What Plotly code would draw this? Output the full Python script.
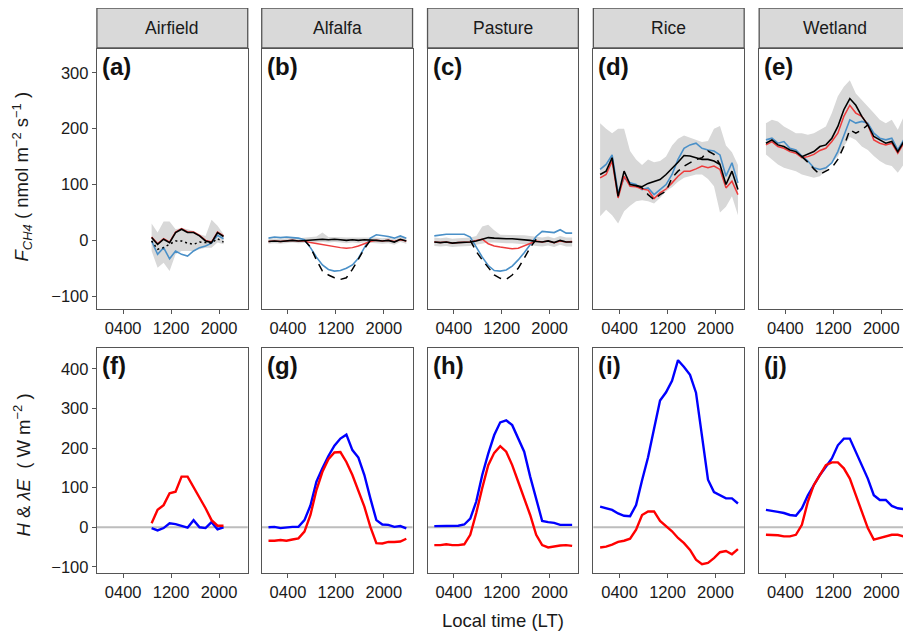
import plotly.graph_objects as go

# ---------------- data ----------------
SITES = ["Airfield", "Alfalfa", "Pasture", "Rice", "Wetland"]
TOP_LABELS = ["(a)", "(b)", "(c)", "(d)", "(e)"]
BOT_LABELS = ["(f)", "(g)", "(h)", "(i)", "(j)"]

HOURS = [0.75, 1.75, 2.75, 3.75, 4.75, 5.75, 6.75, 7.75, 8.75, 9.75, 10.75, 11.75,
         12.75, 13.75, 14.75, 15.75, 16.75, 17.75, 18.75, 19.75, 20.75, 21.75, 22.75, 23.75]
AF_HOURS = [8.75, 9.75, 10.75, 11.75, 12.75, 13.75, 14.75, 15.75, 16.75, 17.75, 18.75, 19.75, 20.75]

X_TICKS = [4, 12, 20]
X_TICK_TEXT = ["0400", "1200", "2000"]
Y_TOP_TICKS = [-100, 0, 100, 200, 300]
Y_TOP_TEXT = ["\u2212100", "0", "100", "200", "300"]
Y_BOT_TICKS = [-100, 0, 100, 200, 300, 400]
Y_BOT_TEXT = ["\u2212100", "0", "100", "200", "300", "400"]

# Airfield FCH4
a_lo = [-19, -49, -40, -55, -25, -19, -19, -19, -16, -13, -13, -4, -7]
a_hi = [30, 14, 34, 34, 20, 22, 20, 17, 11, 8, 37, 26, 11]
a_black = [5, -7, 2, -4, 14, 20, 14, 14, 8, -1, -4, 14, 7]
a_red = [6, -6, 3, -3, 15, 21, 15, 15, 9, 0, -3, 15, 8]
a_blue = [-1, -25, -13, -33, -19, -25, -28, -19, -13, -10, -5, 9, 3]
a_dot = [-1, -16, -13, -7, -1, -1, -5, -7, -3, -4, -5, 3, -3]

# Alfalfa FCH4
b_lo = [-6, -5, -6, -5, -4, -5, -4, -4, -4, -3, -4, -3, -4, -5, -4, -5, -4, -4, -5, -6, -5, -8, -3, -6]
b_hi = [3, 4, 3, 4, 5, 4, 5, 6, 7, 14, 6, 6, 5, 5, 5, 5, 5, 6, 5, 4, 5, 2, 7, 4]
b_black = [-2, -1, -2, -1, 0, -1, 0, 1, 1, 2, 1, 2, 1, 0, 1, 0, 1, 1, 0, -1, 0, -3, 2, -1]
b_red = [-2, -1, -2, -1, 0, -1, -1, -4, -6, -8, -9, -11, -13, -14, -13, -10, -6, -2, 0, -1, 0, -2, 1, -1]
b_blue = [4, 6, 5, 6, 5, 4, 1, -13, -30, -44, -52, -55, -54, -50, -44, -32, -13, 4, 10, 9, 7, 4, 8, 4]
b_dash = [None, None, None, None, None, None, 0, -12, -35, -55, -62, -67, -70, -67, -52, -33, -15, 0,
          None, None, None, None, None, None]

# Pasture FCH4
c_lo = [-10, -11, -10, -12, -11, -11, -10, -8, -6, -4, -4, -5, -5, -5, -6, -6, -8, -10, -11, -9, -12, -8, -11, -11]
c_hi = [5, 4, 5, 3, 4, 4, 5, 8, 25, 28, 18, 10, 10, 10, 9, 9, 8, 6, 5, 7, 4, 8, 5, 5]
c_black = [-3, -4, -3, -5, -4, -4, -3, -1, 2, 5, 4, 3, 3, 3, 2, 2, 0, -2, -3, -1, -4, 0, -3, -3]
c_red = [-3, -4, -3, -5, -4, -4, -3, 0, 2, -6, -10, -12, -13, -15, -14, -10, -5, -1, -3, -1, -4, -1, -3, -2]
c_blue = [8, 10, 11, 11, 11, 11, 6, -12, -30, -45, -54, -55, -53, -46, -35, -22, -8, 7, 16, 15, 14, 19, 13, 13]
c_dash = [None, None, None, None, None, None, 0, -20, -35, -48, -62, -68, -70, -62, -50, -32, -13, 2,
          None, None, None, None, None, None]

# Rice FCH4
d_lo = [43, 55, 45, 30, 52, 62, 70, 72, 70, 66, 76, 88, 95, 105, 112, 115, 118, 118, 110, 97, 50, 60, 79, 45]
d_hi = [210, 200, 192, 200, 200, 160, 145, 135, 145, 140, 142, 150, 170, 182, 188, 184, 180, 176, 178, 200, 205, 170, 158, 135]
d_black = [118, 124, 148, 79, 124, 100, 98, 96, 102, 106, 109, 118, 130, 140, 152, 151, 148, 145, 145, 142, 136, 100, 124, 91]
d_red = [112, 118, 142, 76, 115, 97, 96, 92, 90, 75, 85, 92, 103, 115, 124, 124, 128, 133, 130, 133, 127, 94, 106, 82]
d_blue = [127, 136, 153, 85, 112, 103, 100, 91, 94, 82, 91, 100, 118, 145, 165, 171, 174, 165, 162, 160, 153, 115, 139, 103]
d_dash = [None, None, None, None, None, None, 98, 94, 82, 73, 82, 88, 112, 124, 133, 139, 145, 148, 160, 154, 136,
          None, None, None]

# Wetland FCH4
e_lo = [154, 145, 136, 130, 127, 124, 118, 115, 112, 115, 125, 140, 150, 168, 185, 180, 168, 162, 151, 142, 136, 133, 121, 136]
e_hi = [210, 216, 213, 204, 198, 192, 192, 189, 192, 198, 204, 228, 258, 275, 287, 263, 252, 240, 228, 216, 210, 216, 198, 222]
e_black = [174, 180, 171, 168, 162, 159, 150, 154, 159, 168, 171, 183, 204, 234, 254, 242, 222, 207, 186, 180, 174, 177, 159, 177]
e_red = [171, 177, 168, 165, 159, 156, 148, 150, 154, 161, 165, 177, 192, 222, 242, 228, 222, 207, 180, 174, 171, 174, 156, 174]
e_blue = [180, 183, 174, 177, 165, 162, 151, 142, 130, 127, 130, 139, 159, 186, 216, 210, 213, 210, 192, 183, 180, 183, 162, 180]
e_dash = [None, None, None, None, None, None, 150, 140, 128, 118, 124, 130, 145, 168, 198, 192, 198, 207,
          None, None, None, None, None, None]

# Energy fluxes: H (red) and LE (blue)
f_h = [10, 44, 56, 86, 90, 128, 128, 102, 73, 48, 18, 4, 4]
f_le = [-2, -8, -2, 10, 8, 4, -1, 18, 0, -2, 13, -5, 0]
g_h = [-34, -34, -32, -34, -31, -28, -11, 31, 94, 140, 172, 189, 190, 165, 132, 94, 52, 1, -40, -41, -37, -37, -36, -29]
g_le = [0, 1, -2, 0, 1, 1, 18, 55, 115, 149, 180, 206, 224, 234, 195, 176, 132, 73, 18, 7, 6, 1, 3, -3]
h_h = [-45, -45, -43, -45, -45, -43, -19, 36, 99, 157, 188, 205, 191, 157, 115, 73, 31, -19, -45, -51, -48, -46, -45, -47]
h_le = [3, 3, 3, 4, 4, 7, 22, 65, 132, 186, 233, 265, 270, 258, 224, 191, 128, 73, 16, 13, 11, 6, 6, 6]
i_h = [-51, -49, -44, -37, -34, -29, -6, 31, 40, 40, 16, 2, -10, -27, -40, -57, -82, -93, -90, -78, -63, -60, -68, -55]
i_le = [52, 48, 44, 35, 29, 28, 56, 119, 177, 249, 320, 341, 370, 422, 405, 385, 340, 230, 120, 89, 81, 73, 73, 60]
j_h = [-19, -19, -20, -23, -23, -19, 6, 65, 107, 132, 157, 164, 164, 149, 123, 81, 40, -2, -31, -27, -23, -19, -19, -23]
j_le = [44, 42, 39, 36, 31, 29, 48, 81, 107, 132, 153, 174, 207, 224, 224, 191, 157, 123, 81, 69, 69, 54, 48, 46]

TOP = [
    dict(x=AF_HOURS, lo=a_lo, hi=a_hi, black=a_black, red=a_red, blue=a_blue, extra=a_dot, dash="2px,3px"),
    dict(x=HOURS, lo=b_lo, hi=b_hi, black=b_black, red=b_red, blue=b_blue, extra=b_dash, dash="8px,6px"),
    dict(x=HOURS, lo=c_lo, hi=c_hi, black=c_black, red=c_red, blue=c_blue, extra=c_dash, dash="8px,6px"),
    dict(x=HOURS, lo=d_lo, hi=d_hi, black=d_black, red=d_red, blue=d_blue, extra=d_dash, dash="8px,6px"),
    dict(x=HOURS, lo=e_lo, hi=e_hi, black=e_black, red=e_red, blue=e_blue, extra=e_dash, dash="8px,6px"),
]
BOT = [
    dict(x=AF_HOURS, h=f_h, le=f_le),
    dict(x=HOURS, h=g_h, le=g_le),
    dict(x=HOURS, h=h_h, le=h_le),
    dict(x=HOURS, h=i_h, le=i_le),
    dict(x=HOURS, h=j_h, le=j_le),
]

# ---------------- layout helpers ----------------
# page body has an 8px margin, so the figure starts at (8, 8) of the window
OFF = 8
W, H = 903, 632
LEFTS = [97, 262, 428, 594, 760]
PW = 151
TOP_Y = (49, 310)
BOT_Y = (349, 575)
FONT = "Liberation Sans, Arial, Helvetica, sans-serif"
BORDER = "#555555"
RED_T = "#ee3b3b"
BLUE_T = "#4a90c8"


def px(X):
    return min(max((X - OFF) / W, 0.0), 1.0)


def py(Y):
    return min(max(1 - (Y - OFF) / H, 0.0), 1.0)


fig = go.Figure()
layout = dict(width=W, height=H, margin=dict(l=0, r=0, t=0, b=0),
              paper_bgcolor="white", plot_bgcolor="white", showlegend=False,
              font=dict(family=FONT, color="#1a1a1a"))
shapes, annotations = [], []


def ax_names(n):
    return ("x" if n == 1 else f"x{n}", "y" if n == 1 else f"y{n}",
            "xaxis" if n == 1 else f"xaxis{n}", "yaxis" if n == 1 else f"yaxis{n}")


for row in range(2):
    for col in range(5):
        n = row * 5 + col + 1
        xr, yr, xn, yn = ax_names(n)
        l = LEFTS[col]
        t, b = TOP_Y if row == 0 else BOT_Y
        layout[xn] = dict(domain=[px(l), px(l + PW)], range=[-0.38, 24.79],
                          tickmode="array", tickvals=X_TICKS, ticktext=X_TICK_TEXT,
                          ticks="outside", ticklen=4, tickcolor=BORDER, tickwidth=1,
                          showline=True, mirror=True, linecolor=BORDER, linewidth=1.3,
                          showgrid=False, zeroline=False, anchor=yr,
                          tickfont=dict(size=16.5, color="#1a1a1a"), fixedrange=True)
        ydict = dict(domain=[py(b), py(t)],
                     range=[-123, 343] if row == 0 else [-116, 453],
                     tickmode="array",
                     tickvals=Y_TOP_TICKS if row == 0 else Y_BOT_TICKS,
                     ticktext=Y_TOP_TEXT if row == 0 else Y_BOT_TEXT,
                     showline=True, mirror=True, linecolor=BORDER, linewidth=1.3,
                     showgrid=False, zeroline=False, anchor=xr,
                     tickfont=dict(size=16.5, color="#1a1a1a"), fixedrange=True)
        if col == 0:
            ydict.update(ticks="outside", ticklen=4, tickcolor=BORDER, tickwidth=1, showticklabels=True)
        else:
            ydict.update(ticks="", showticklabels=False)
        layout[yn] = ydict

        lab = TOP_LABELS[col] if row == 0 else BOT_LABELS[col]
        annotations.append(dict(text=f"<b>{lab}</b>", xref=f"{xr} domain", yref=f"{yr} domain",
                                x=0.02, y=0.99, xanchor="left", yanchor="top", showarrow=False,
                                font=dict(size=24, color="#111111")))

        if row == 0:
            s = TOP[col]
            fig.add_trace(go.Scatter(x=s["x"], y=s["lo"], xaxis=xr, yaxis=yr, mode="lines",
                                     line=dict(width=0, color="#d6d6d6"), hoverinfo="skip"))
            fig.add_trace(go.Scatter(x=s["x"], y=s["hi"], xaxis=xr, yaxis=yr, mode="lines",
                                     line=dict(width=0, color="#d6d6d6"), fill="tonexty",
                                     fillcolor="#d8d8d8", hoverinfo="skip"))
            fig.add_trace(go.Scatter(x=s["x"], y=s["blue"], xaxis=xr, yaxis=yr, mode="lines",
                                     line=dict(width=1.6, color=BLUE_T)))
            fig.add_trace(go.Scatter(x=s["x"], y=s["red"], xaxis=xr, yaxis=yr, mode="lines",
                                     line=dict(width=1.5, color=RED_T)))
            fig.add_trace(go.Scatter(x=s["x"], y=s["extra"], xaxis=xr, yaxis=yr, mode="lines",
                                     line=dict(width=1.5, color="black", dash=s["dash"])))
            fig.add_trace(go.Scatter(x=s["x"], y=s["black"], xaxis=xr, yaxis=yr, mode="lines",
                                     line=dict(width=1.6, color="black")))
            # strip
            shapes.append(dict(type="rect", xref="paper", yref="paper",
                               x0=px(l), x1=px(l + PW), y0=py(48), y1=py(8),
                               fillcolor="#d9d9d9", line=dict(color=BORDER, width=1.3)))
            annotations.append(dict(text=SITES[col], xref="paper", yref="paper",
                                    x=px(l + PW / 2), y=py(28), xanchor="center",
                                    yanchor="middle", showarrow=False,
                                    font=dict(size=17.5, color="#1a1a1a")))
        else:
            s = BOT[col]
            shapes.append(dict(type="line", xref=f"{xr} domain", yref=yr, x0=0, x1=1, y0=0, y1=0,
                               line=dict(color="#bdbdbd", width=2), layer="below"))
            fig.add_trace(go.Scatter(x=s["x"], y=s["le"], xaxis=xr, yaxis=yr, mode="lines",
                                     line=dict(width=2.4, color="#0000ff")))
            fig.add_trace(go.Scatter(x=s["x"], y=s["h"], xaxis=xr, yaxis=yr, mode="lines",
                                     line=dict(width=2.4, color="#ff0000")))

annotations.append(dict(text="<i>F</i><sub><i>CH4</i></sub> ( nmol m<sup>\u22122</sup> s<sup>\u22121</sup> )",
                        xref="paper", yref="paper", x=px(22), y=py(177), textangle=-90,
                        xanchor="center", yanchor="middle", showarrow=False,
                        font=dict(size=18.5, color="#1a1a1a")))
annotations.append(dict(text="<i>H</i> & <i>\u03bbE</i>  ( W m<sup>\u22122</sup> )",
                        xref="paper", yref="paper", x=px(22), y=py(466), textangle=-90,
                        xanchor="center", yanchor="middle", showarrow=False,
                        font=dict(size=18.5, color="#1a1a1a")))
annotations.append(dict(text="Local time (LT)", xref="paper", yref="paper",
                        x=px(504), y=py(622), xanchor="center", yanchor="middle",
                        showarrow=False, font=dict(size=18.5, color="#1a1a1a")))

layout["shapes"] = shapes
layout["annotations"] = annotations
fig.update_layout(**layout)
fig.write_html("out.html")
